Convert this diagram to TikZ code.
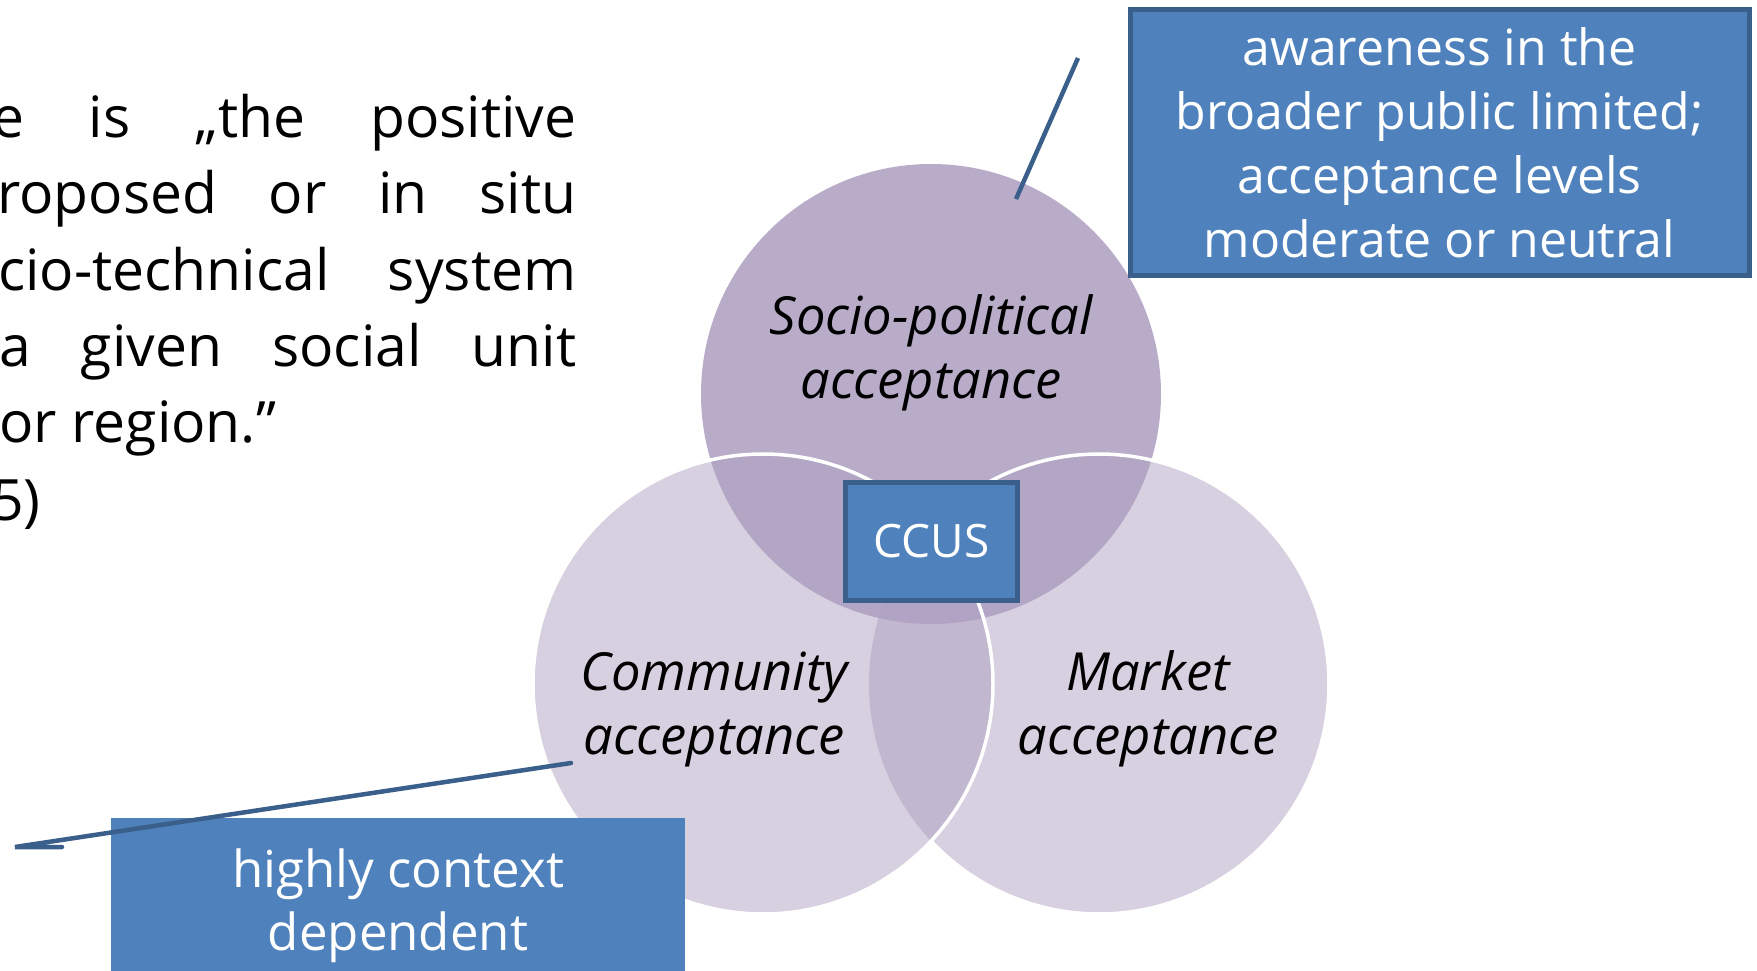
\documentclass[tikz,border=0pt]{standalone}
\usepackage{fontspec}
\setmainfont{Open Sans}
\definecolor{boxblue}{HTML}{4F81BD}
\definecolor{boxedge}{HTML}{3A5F8B}
\definecolor{topc}{HTML}{B9ACC9}
\definecolor{lowc}{HTML}{ADA0C1}
\begin{document}
\begin{tikzpicture}[x=1pt,y=-1pt,
  vennfill/.style={circle, draw=none, minimum size=460pt, inner sep=0pt},
  vennlabel/.style={align=center, font=\fontsize{52.5}{64}\selectfont\itshape, text=black},
  bluebox/.style={rectangle, fill=boxblue, text=white, align=center, inner sep=0pt},
  partext/.style={anchor=base west, inner sep=0pt, font=\fontsize{57}{76}\selectfont, text=black},
  callout/.style={draw=boxedge, line width=4.5pt}]
\useasboundingbox (0,0) rectangle (1757,971);
\clip (0,0) rectangle (1757,971);
\fill[white] (0,0) rectangle (1757,971);
% Venn circles
\node[vennfill, fill=topc] (sp) at (931,394) {};
\node[vennfill, fill=lowc, fill opacity=0.49] (mk) at (1099,684) {};
\node[vennfill, fill=lowc, fill opacity=0.49] (cm) at (763,684) {};
\draw[white, line width=3.5pt] (mk.center) ++(-136.9:230) arc[start angle=-136.9, end angle=136.9, radius=230];
\draw[white, line width=3.5pt] (cm.center) circle[radius=230];
% labels
\node[vennlabel] (splab) at (931,353) {Socio-political\\acceptance};
\node[vennlabel] (cmlab) at (714,709) {Community\\acceptance};
\node[vennlabel] (mklab) at (1148,709) {Market\\acceptance};
% CCUS
\node[bluebox, draw=boxedge, line width=5pt, minimum width=172pt, minimum height=118pt,
      font=\fontsize{46}{54}\selectfont] (ccus) at (931.5,541) {CCUS};
% top-right callout
\node[bluebox, draw=boxedge, line width=5pt, minimum width=619pt, minimum height=265pt,
      font=\fontsize{50}{64}\selectfont] (aw) at (1439.5,142.5)
  {awareness in the\\broader public limited;\\acceptance levels\\moderate or neutral};
\coordinate (awtip) at (1016,199);
\coordinate (awbase) at (1078,58);
\draw[callout] (awbase) -- (awtip);
% bottom-left callout
\node[bluebox, minimum width=574pt, minimum height=175pt,
      font=\fontsize{51}{63}\selectfont] (hc) at (398,905.5) {highly context\\dependent};
\coordinate (hcstart) at (571,763);
\coordinate (hcbend) at (15,847);
\coordinate (hcend) at (62,847);
\draw[callout, line cap=round] (hcstart) -- (hcbend) -- (hcend);
% paragraph fragments
\node[partext] (p1) at (-8,138) {\makebox[584pt][s]{e is „the positive}};
\node[partext] (p2) at (-3,214) {\makebox[579pt][s]{roposed or in situ}};
\node[partext] (p3) at (-2,290) {\makebox[578pt][s]{cio-technical system}};
\node[partext] (p4) at (-1,366) {\makebox[577pt][s]{a given social unit}};
\node[partext] (p5) at (-1,442) {or region.”};
\node[partext] (p6) at (-9,520) {5)};
\end{tikzpicture}
\end{document}
